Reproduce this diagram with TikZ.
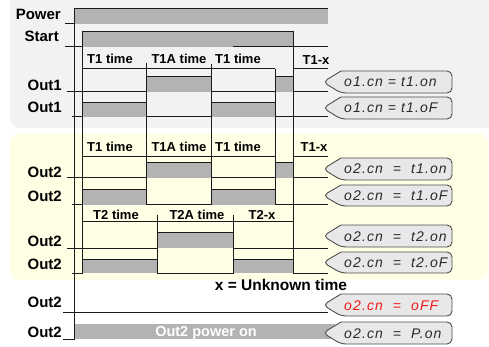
\documentclass[tikz,border=0pt]{standalone}
\usepackage{fontspec}
\setmainfont{Liberation Sans}
\newfontfamily\segfont[LetterSpace=8]{Liberation Sans}
\definecolor{panelgray}{HTML}{F2F2F2}
\definecolor{panelyel}{HTML}{FFFFE6}
\definecolor{hifill}{HTML}{B3B3B3}
\definecolor{bubfill}{HTML}{E8E8E8}
\definecolor{bubline}{HTML}{4D4D4D}
\definecolor{sigline}{HTML}{1A1A1A}
\definecolor{segred}{HTML}{F01818}
\definecolor{segdark}{HTML}{2A2A2A}
\newcommand\mkbubble[5]{%
  \draw[bub] (396,#2) [rounded corners=5pt] -- (452,#2) -- (452,#3) -- (341,#3) -- (323,{(#2+#3)/2}) [sharp corners] -- (341,#2) [rounded corners=5pt] -- cycle;
  \node[segtxt,text=#5] (#1) at (344,{(#2+#3)/2+5}) {#4};}
\begin{document}
\begin{tikzpicture}[x=1pt,y=-1pt,
  sig/.style={draw=sigline,line width=1pt},
  hi/.style={fill=hifill},
  lbl/.style={font=\fontsize{15}{15}\selectfont\bfseries,anchor=base east,inner sep=0},
  tlbl/.style={font=\fontsize{13}{13}\selectfont\bfseries,anchor=base,inner sep=0},
  bub/.style={draw=bubline,fill=bubfill,line width=0.9pt},
  segtxt/.style={font=\fontsize{14}{14}\segfont\itshape,anchor=base west,inner sep=0}]
\useasboundingbox (0,0) rectangle (489,347);
% panels
\begin{scope}
\clip (0,0) rectangle (489,347);
\fill[panelgray,rounded corners=10pt] (10,-12) rectangle (500,128);
\end{scope}
\fill[panelyel,rounded corners=10pt] (10,133) rectangle (488,280);
% left labels
\node[lbl] (pw) at (61,20) {Power};
\node[lbl] (st) at (59,42) {Start};
\node[lbl] (o1a) at (62,91) {Out1};
\node[lbl] (o1b) at (62,113) {Out1};
\node[lbl] (o2a) at (62,178) {Out2};
\node[lbl] (o2b) at (62,201) {Out2};
\node[lbl] (o2c) at (62,246) {Out2};
\node[lbl] (o2d) at (62,269) {Out2};
\node[lbl] (o2e) at (62,307) {Out2};
\node[lbl] (o2f) at (62,337) {Out2};
% time labels
\node[tlbl] (ta1) at (110,64) {T1 time};
\node[tlbl] (ta2) at (179,64) {T1A time};
\node[tlbl] (ta3) at (238,64) {T1 time};
\node[tlbl] (ta4) at (316,65) {T1-x};
\node[tlbl] (tb1) at (110,152) {T1 time};
\node[tlbl] (tb2) at (179,152) {T1A time};
\node[tlbl] (tb3) at (238,152) {T1 time};
\node[tlbl] (tb4) at (314,152) {T1-x};
\node[tlbl] (tc1) at (116,219) {T2 time};
\node[tlbl] (tc2) at (197,219) {T2A time};
\node[tlbl] (tc3) at (262,219) {T2-x};
\node[tlbl,font=\fontsize{15.5}{15.5}\selectfont\bfseries] (xu) at (281,290) {x = Unknown time};
% fills
\fill[hi] (74,9) rectangle (328,24);
\fill[hi] (82,32) rectangle (293,47);
\fill[hi] (146,77) rectangle (211,92);
\fill[hi] (275,77) rectangle (293,92);
\fill[hi] (82,103) rectangle (146,117);
\fill[hi] (211,103) rectangle (275,117);
\fill[hi] (146,163) rectangle (211,178);
\fill[hi] (275,163) rectangle (293,178);
\fill[hi] (82,190) rectangle (146,205);
\fill[hi] (211,190) rectangle (275,205);
\fill[hi] (157,232) rectangle (233,248);
\fill[hi] (82,259) rectangle (157,273);
\fill[hi] (233,259) rectangle (293,273);
\fill[hi] (74,324) rectangle (335,339);
\node[tlbl,font=\fontsize{14.5}{14.5}\selectfont\bfseries,text=white] (pon) at (206,336) {Out2 power on};
% signals
\draw[sig] (65,24) -- (74,24) -- (74,9) -- (328,9);
\draw[sig] (65,47) -- (82,47) -- (82,32) -- (293,32) -- (293,47) -- (328,47);
\draw[sig] (233,47) -- (293,47);
\draw[sig] (67,92) -- (146,92) -- (146,77) -- (211,77) -- (211,92) -- (275,92) -- (275,77) -- (293,77) -- (293,92) -- (328,92);
\draw[sig] (72,117) -- (82,117) -- (82,103) -- (146,103) -- (146,117) -- (211,117) -- (211,103) -- (275,103) -- (275,117) -- (328,117);
\draw[sig] (67,178) -- (146,178) -- (146,163) -- (211,163) -- (211,178) -- (275,178) -- (275,163) -- (293,163) -- (293,178) -- (328,178);
\draw[sig] (72,205) -- (82,205) -- (82,190) -- (146,190) -- (146,205) -- (211,205) -- (211,190) -- (275,190) -- (275,205) -- (328,205);
\draw[sig] (67,248) -- (157,248) -- (157,232) -- (233,232) -- (233,248) -- (328,248);
\draw[sig] (72,273) -- (82,273) -- (82,259) -- (157,259) -- (157,273) -- (233,273) -- (233,259) -- (293,259) -- (293,273) -- (328,273);
\draw[sig] (63,312) -- (328,312);
\draw[sig] (63,339) -- (74,339) -- (74,324);
% label rules
\draw[sig] (82,69) -- (275,69) (293,69) -- (328,69);
\draw[sig] (82,157) -- (275,157) (293,157) -- (328,157);
\draw[sig] (82,221) -- (293,221);
% verticals
\draw[sig] (74,9) -- (74,339);
\draw[sig] (82,32) -- (82,273);
\draw[sig] (293,32) -- (293,273);
\draw[sig] (146,63) -- (146,205);
\draw[sig] (211,64) -- (211,205);
\draw[sig] (275,69) -- (275,205);
\draw[sig] (157,215) -- (157,273);
\draw[sig] (233,215) -- (233,273);
% bubbles
\mkbubble{b1}{71}{93}{o1.cn = t1.on}{segdark}
\mkbubble{b2}{97}{119}{o1.cn = t1.oF}{segdark}
\mkbubble{b3}{158}{180}{o2.cn~~=~~t1.on}{segdark}
\mkbubble{b4}{185}{206}{o2.cn~~=~~t1.oF}{segdark}
\mkbubble{b5}{225}{247}{o2.cn~~=~~t2.on}{segdark}
\mkbubble{b6}{252}{273}{o2.cn~~=~~t2.oF}{segdark}
\mkbubble{b7}{294}{316}{o2.cn~~=~~oFF}{segred}
\mkbubble{b8}{322}{344}{o2.cn~~=~~P.on}{segdark}
\end{tikzpicture}
\end{document}
